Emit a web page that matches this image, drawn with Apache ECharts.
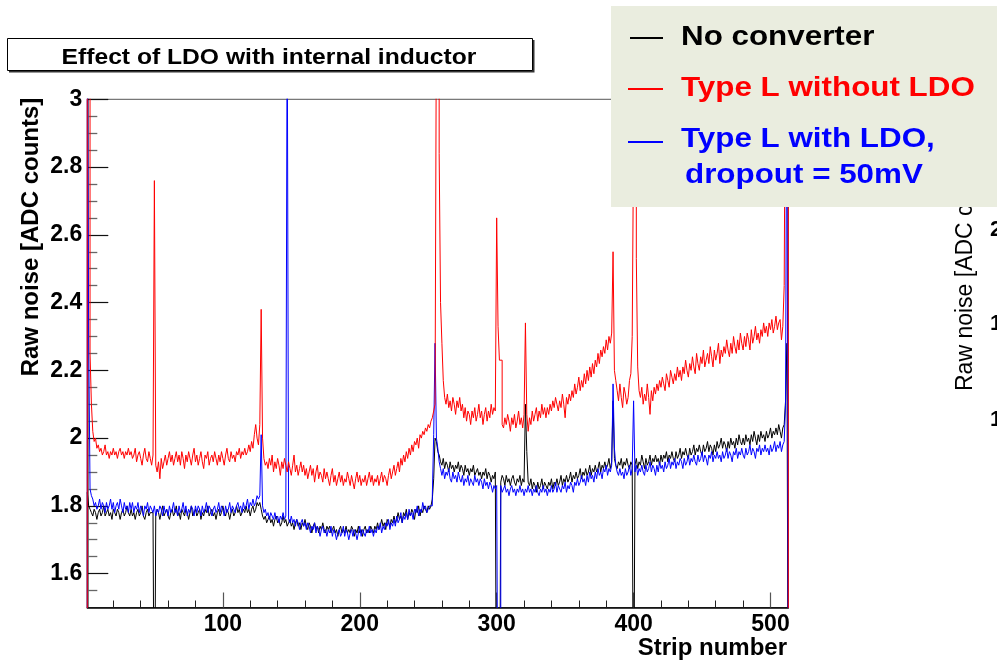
<!DOCTYPE html>
<html><head><meta charset="utf-8">
<script src="https://cdn.jsdelivr.net/npm/echarts@6/dist/echarts.min.js"></script>
<style>html,body{margin:0;padding:0;background:#fff}#c{width:997px;height:661px}</style>
</head><body><div id="c"></div>
<script>
// ---- data (strip 1..512), raw noise in ADC counts ----
const firstStrip = 1;
const noConverter = [
1.84,1.80,1.79,1.78,1.77,1.79,1.78,1.76,1.78,1.79,1.77,1.78,1.80,1.77,1.78,1.79,
1.77,1.78,1.76,1.79,1.78,1.77,1.79,1.78,1.76,1.78,1.79,1.77,1.78,1.80,1.78,1.77,
1.79,1.77,1.78,1.76,1.78,1.79,1.77,1.78,1.80,1.77,1.76,1.78,1.79,1.77,1.78,1.78,
1.77,1.00,1.77,1.79,1.78,1.76,1.78,1.80,1.77,1.78,1.79,1.77,1.76,1.78,1.79,1.77,
1.78,1.80,1.77,1.78,1.76,1.79,1.78,1.77,1.79,1.78,1.76,1.78,1.80,1.77,1.78,1.79,
1.77,1.78,1.79,1.76,1.78,1.77,1.79,1.78,1.80,1.77,1.78,1.79,1.77,1.78,1.76,1.78,
1.79,1.77,1.78,1.80,1.78,1.77,1.79,1.78,1.76,1.78,1.79,1.77,1.78,1.80,1.78,1.79,
1.77,1.78,1.79,1.78,1.80,1.78,1.79,1.77,1.79,1.80,1.78,1.79,1.81,1.80,1.81,1.79,
1.77,1.76,1.77,1.75,1.76,1.77,1.75,1.76,1.74,1.76,1.77,1.75,1.76,1.74,1.75,1.77,
1.75,1.76,1.74,1.75,1.76,1.74,1.75,1.73,1.75,1.76,1.74,1.75,1.73,1.75,1.74,1.76,
1.74,1.73,1.75,1.74,1.72,1.74,1.75,1.73,1.74,1.72,1.74,1.73,1.75,1.73,1.72,1.74,
1.73,1.74,1.72,1.73,1.74,1.72,1.73,1.71,1.73,1.74,1.72,1.73,1.72,1.74,1.72,1.73,
1.72,1.74,1.73,1.71,1.73,1.72,1.74,1.72,1.73,1.71,1.73,1.74,1.72,1.73,1.72,1.74,
1.73,1.72,1.74,1.73,1.75,1.73,1.74,1.76,1.74,1.75,1.73,1.76,1.75,1.74,1.76,1.75,
1.77,1.75,1.76,1.78,1.76,1.77,1.75,1.78,1.77,1.79,1.76,1.78,1.77,1.79,1.78,1.76,
1.79,1.78,1.80,1.77,1.79,1.78,1.80,1.79,1.78,1.80,1.79,1.80,1.82,1.88,2.00,1.99,
1.96,1.95,1.93,1.92,1.94,1.91,1.93,1.92,1.90,1.93,1.91,1.92,1.90,1.92,1.91,1.93,
1.90,1.92,1.91,1.89,1.92,1.90,1.91,1.89,1.91,1.90,1.92,1.89,1.90,1.91,1.89,1.90,
1.88,1.90,1.89,1.91,1.88,1.90,1.89,1.87,1.89,1.88,1.90,1.00,1.00,1.00,1.87,1.89,
1.88,1.86,1.89,1.87,1.88,1.86,1.88,1.89,1.87,1.86,1.88,1.87,1.89,1.86,1.88,1.87,
2.10,1.96,1.87,1.86,1.88,1.85,1.87,1.86,1.84,1.87,1.85,1.86,1.88,1.85,1.87,1.86,
1.85,1.87,1.86,1.88,1.85,1.87,1.86,1.88,1.86,1.87,1.89,1.86,1.88,1.87,1.89,1.87,
1.88,1.90,1.87,1.89,1.88,1.90,1.88,1.89,1.91,1.88,1.90,1.89,1.91,1.89,1.90,1.92,
1.89,1.91,1.90,1.92,1.90,1.91,1.93,1.90,1.92,1.91,1.93,1.91,1.92,1.94,1.91,1.93,
2.11,1.94,1.92,1.91,1.93,1.92,1.94,1.91,1.93,1.92,1.94,1.92,1.91,1.93,1.92,1.00,
1.92,1.94,1.91,1.93,1.92,1.95,1.93,1.91,1.94,1.92,1.93,1.95,1.92,1.94,1.93,1.95,
1.93,1.94,1.92,1.95,1.93,1.95,1.94,1.96,1.93,1.95,1.94,1.96,1.94,1.93,1.96,1.94,
1.95,1.97,1.94,1.96,1.95,1.97,1.95,1.94,1.97,1.95,1.96,1.98,1.95,1.97,1.96,1.98,
1.96,1.95,1.98,1.96,1.97,1.99,1.96,1.98,1.97,1.95,1.98,1.96,1.99,1.97,1.98,2.00,
1.97,1.99,1.98,1.96,1.99,1.97,2.00,1.98,1.99,1.97,2.00,1.98,2.01,1.99,1.98,2.00,
1.98,2.01,1.99,2.00,1.98,2.01,1.99,2.02,2.00,1.98,2.01,1.99,2.02,2.00,2.01,1.99,
2.02,2.00,2.01,2.03,2.00,2.02,2.01,2.03,2.01,2.04,2.02,2.00,2.03,2.04,2.11,2.28
];
const typeLWithoutLDO = [
3.30,3.30,2.25,2.10,2.02,1.99,2.00,1.97,1.98,1.96,1.97,1.95,1.96,1.98,1.95,1.96,
1.94,1.96,1.95,1.97,1.95,1.96,1.94,1.96,1.97,1.95,1.96,1.94,1.96,1.95,1.97,1.95,
1.96,1.94,1.95,1.97,1.93,1.95,1.96,1.94,1.92,1.95,1.97,1.94,1.93,1.96,1.94,1.92,
1.95,2.76,1.92,1.90,1.93,1.88,1.94,1.91,1.93,1.95,1.92,1.94,1.96,1.93,1.95,1.92,
1.94,1.96,1.93,1.95,1.92,1.96,1.94,1.91,1.95,1.93,1.96,1.94,1.92,1.95,1.97,1.93,
1.95,1.92,1.94,1.96,1.93,1.91,1.95,1.94,1.96,1.92,1.94,1.95,1.93,1.96,1.94,1.92,
1.95,1.93,1.96,1.94,1.92,1.95,1.97,1.94,1.93,1.96,1.94,1.95,1.93,1.96,1.95,1.97,
1.94,1.96,1.95,1.97,1.95,1.96,1.98,1.96,1.99,1.97,2.01,2.04,2.00,1.98,2.04,2.38,
2.00,1.94,1.92,1.93,1.91,1.94,1.92,1.95,1.90,1.93,1.91,1.94,1.92,1.89,1.93,1.91,
1.94,1.92,1.90,1.93,1.91,1.89,1.92,1.95,1.90,1.92,1.89,1.91,1.93,1.90,1.92,1.89,
1.91,1.88,1.90,1.92,1.89,1.91,1.87,1.90,1.92,1.88,1.90,1.89,1.87,1.91,1.88,1.90,
1.88,1.86,1.89,1.91,1.87,1.89,1.86,1.88,1.90,1.87,1.89,1.86,1.88,1.87,1.90,1.88,
1.86,1.89,1.87,1.85,1.88,1.90,1.87,1.89,1.86,1.88,1.87,1.89,1.86,1.88,1.90,1.87,
1.89,1.86,1.88,1.87,1.89,1.86,1.88,1.90,1.87,1.89,1.88,1.86,1.89,1.91,1.88,1.90,
1.92,1.89,1.91,1.93,1.90,1.94,1.92,1.95,1.93,1.96,1.94,1.97,1.95,1.98,1.96,1.99,
1.98,2.00,1.97,2.01,2.00,2.02,2.01,2.03,2.02,2.04,2.03,2.05,2.06,2.08,2.10,3.30,
3.30,2.84,2.40,2.28,2.17,2.12,2.10,2.13,2.09,2.11,2.08,2.12,2.10,2.07,2.11,2.09,
2.12,2.08,2.10,2.06,2.09,2.05,2.08,2.07,2.04,2.08,2.06,2.09,2.05,2.07,2.10,2.06,
2.08,2.04,2.07,2.09,2.05,2.08,2.06,2.10,2.07,2.09,2.08,2.65,2.33,2.23,2.23,2.04,
2.03,2.06,2.04,2.07,2.05,2.02,2.06,2.04,2.07,2.03,2.05,2.08,2.04,2.06,2.03,2.07,
2.34,2.07,2.02,2.06,2.04,2.08,2.05,2.07,2.09,2.05,2.08,2.06,2.10,2.07,2.09,2.06,
2.09,2.07,2.10,2.08,2.11,2.09,2.12,2.10,2.08,2.11,2.09,2.13,2.10,2.06,2.12,2.10,
2.13,2.11,2.14,2.12,2.16,2.13,2.15,2.18,2.14,2.17,2.15,2.19,2.16,2.20,2.17,2.21,
2.18,2.22,2.19,2.23,2.21,2.25,2.22,2.26,2.24,2.27,2.25,2.29,2.26,2.30,2.28,2.31,
2.55,2.20,2.17,2.14,2.11,2.16,2.12,2.09,2.15,2.13,2.10,2.12,2.17,2.19,2.30,2.90,
2.90,2.53,2.21,2.14,2.12,2.15,2.10,2.13,2.11,2.16,2.12,2.07,2.14,2.11,2.15,2.13,
2.16,2.14,2.17,2.15,2.18,2.16,2.14,2.19,2.17,2.15,2.20,2.18,2.16,2.19,2.17,2.21,
2.18,2.20,2.17,2.21,2.19,2.23,2.20,2.18,2.22,2.20,2.24,2.21,2.19,2.25,2.22,2.20,
2.24,2.22,2.26,2.21,2.23,2.25,2.22,2.27,2.24,2.21,2.26,2.23,2.25,2.28,2.22,2.26,
2.24,2.27,2.25,2.29,2.26,2.24,2.28,2.25,2.30,2.27,2.25,2.29,2.26,2.31,2.28,2.26,
2.30,2.27,2.31,2.29,2.26,2.32,2.28,2.30,2.33,2.29,2.31,2.28,2.32,2.30,2.34,2.31,
2.33,2.30,2.34,2.32,2.35,2.31,2.33,2.36,2.32,2.34,2.35,2.29,2.33,2.45,3.30,3.30
];
const typeLWithLDO = [
3.30,2.30,1.85,1.83,1.82,1.80,1.81,1.79,1.80,1.82,1.79,1.81,1.80,1.78,1.81,1.79,
1.80,1.82,1.79,1.81,1.78,1.80,1.81,1.79,1.82,1.80,1.78,1.81,1.79,1.80,1.78,1.81,
1.79,1.81,1.78,1.80,1.79,1.81,1.78,1.80,1.79,1.77,1.80,1.79,1.81,1.78,1.80,1.79,
1.78,1.80,1.77,1.79,1.78,1.80,1.79,1.77,1.80,1.78,1.79,1.77,1.80,1.78,1.79,1.81,
1.78,1.79,1.77,1.80,1.78,1.79,1.81,1.78,1.80,1.77,1.79,1.78,1.80,1.79,1.77,1.80,
1.78,1.80,1.79,1.77,1.80,1.78,1.79,1.81,1.78,1.80,1.79,1.77,1.79,1.80,1.78,1.79,
1.81,1.78,1.80,1.79,1.77,1.80,1.78,1.79,1.81,1.78,1.80,1.79,1.78,1.80,1.81,1.79,
1.80,1.78,1.81,1.79,1.80,1.82,1.79,1.81,1.80,1.82,1.80,1.81,1.83,1.82,1.83,2.01,
1.80,1.78,1.79,1.77,1.78,1.76,1.78,1.77,1.76,1.78,1.76,1.77,1.75,1.77,1.76,1.78,
1.76,1.77,3.30,1.76,1.75,1.77,1.75,1.76,1.74,1.76,1.75,1.73,1.75,1.76,1.74,1.75,
1.73,1.75,1.74,1.72,1.74,1.73,1.75,1.72,1.74,1.73,1.71,1.73,1.74,1.72,1.73,1.71,
1.73,1.72,1.74,1.71,1.73,1.72,1.70,1.72,1.73,1.71,1.72,1.74,1.71,1.73,1.72,1.70,
1.72,1.73,1.71,1.73,1.72,1.70,1.72,1.74,1.71,1.73,1.72,1.71,1.73,1.72,1.74,1.72,
1.73,1.71,1.73,1.72,1.74,1.73,1.75,1.72,1.74,1.73,1.75,1.74,1.76,1.73,1.75,1.74,
1.76,1.74,1.77,1.75,1.76,1.78,1.75,1.77,1.76,1.78,1.76,1.79,1.77,1.78,1.76,1.79,
1.78,1.80,1.77,1.79,1.78,1.81,1.79,1.80,1.78,1.79,1.80,1.80,1.83,2.01,2.28,2.00,
1.97,1.93,1.91,1.89,1.91,1.88,1.90,1.89,1.91,1.88,1.87,1.90,1.88,1.89,1.87,1.90,
1.88,1.87,1.89,1.86,1.88,1.87,1.89,1.86,1.88,1.87,1.86,1.89,1.87,1.88,1.86,1.88,
1.87,1.85,1.88,1.86,1.87,1.85,1.87,1.86,1.84,1.86,1.85,1.86,1.00,1.00,1.86,1.84,
1.85,1.86,1.84,1.85,1.83,1.85,1.86,1.84,1.85,1.83,1.85,1.84,1.86,1.84,1.85,1.83,
1.85,1.84,1.86,1.84,1.85,1.83,1.85,1.84,1.86,1.84,1.83,1.85,1.84,1.86,1.84,1.85,
1.83,1.85,1.84,1.86,1.84,1.85,1.87,1.84,1.86,1.85,1.84,1.86,1.85,1.87,1.84,1.86,
1.85,1.87,1.86,1.84,1.87,1.86,1.88,1.86,1.87,1.89,1.87,1.88,1.86,1.89,1.87,1.90,
1.88,1.89,1.87,1.90,1.88,1.91,1.89,1.90,1.88,1.91,1.90,1.92,1.89,1.91,1.90,1.92,
2.16,1.97,1.92,1.90,1.89,1.91,1.89,1.90,1.88,1.91,1.89,1.90,1.92,1.89,1.91,2.11,
1.90,1.92,1.89,1.91,1.90,1.92,1.90,1.89,1.92,1.90,1.91,1.93,1.90,1.92,1.91,1.89,
1.92,1.90,1.93,1.91,1.92,1.90,1.93,1.91,1.92,1.94,1.91,1.93,1.92,1.94,1.91,1.93,
1.92,1.94,1.93,1.91,1.94,1.92,1.93,1.95,1.92,1.94,1.93,1.95,1.93,1.92,1.95,1.93,
1.94,1.96,1.93,1.95,1.94,1.92,1.95,1.94,1.96,1.93,1.95,1.94,1.96,1.94,1.95,1.93,
1.96,1.94,1.95,1.97,1.94,1.96,1.95,1.93,1.96,1.95,1.97,1.94,1.96,1.95,1.97,1.95,
1.94,1.97,1.95,1.96,1.98,1.95,1.97,1.96,1.94,1.97,1.96,1.98,1.95,1.97,1.96,1.98,
1.96,1.97,1.95,1.98,1.96,1.97,1.99,1.96,1.98,1.97,1.99,1.96,1.98,1.99,2.10,3.30
];
const xMajorTicks = [100, 200, 300, 400, 500];
const xMinorTicks = [20,40,60,80,120,140,160,180,220,240,260,280,320,340,360,380,420,440,460,480];
const yMajorTicks = [1.6, 1.8, 2.0, 2.2, 2.4, 2.6, 2.8, 3.0];
const yMinorTicks = [1.55,1.65,1.7,1.75,1.85,1.9,1.95,2.05,2.1,2.15,2.25,2.3,2.35,2.45,2.5,2.55,2.65,2.7,2.75,2.85,2.9,2.95];
const legendNames = ['No converter', 'Type L without LDO', 'Type L with LDO,', 'dropout = 50mV'];

// ---- build step (histogram) outlines from the arrays ----
const BASE = 1.0; // below the visible range, like ROOT's contour from the baseline
function histo(vals) {
  const d = [[firstStrip, BASE]];
  vals.forEach((v, i) => d.push([firstStrip + i, v]));
  const last = firstStrip + vals.length;
  d.push([last, vals[vals.length - 1]]);
  d.push([last, BASE]);
  return d;
}

const chart = echarts.init(document.getElementById('c'), null, {renderer: 'canvas'});
const F = 'Liberation Sans, Arial, Helvetica, sans-serif';
const common = {type: 'line', step: 'end', symbol: 'none', showSymbol: false, clip: true,
  animation: false, silent: true, xAxisIndex: 0, yAxisIndex: 0};

chart.setOption({
  animation: false,
  grid: {left: 87.3, top: 99.3, width: 701, height: 508.2, show: true,
         borderColor: '#555', borderWidth: 1, backgroundColor: 'transparent'},
  xAxis: [{
    type: 'value', min: 1, max: 513, position: 'bottom',
    axisLine: {show: true, onZero: false, lineStyle: {color: '#000', width: 1.5}},
    axisTick: {show: true, inside: true, length: 15, customValues: xMajorTicks, lineStyle: {color: '#555', width: 1.2}},
    axisLabel: {show: true, customValues: xMajorTicks, margin: 6, color: '#000',
                fontFamily: F, fontWeight: 'bold', fontSize: 23},
    splitLine: {show: false}
  }, {
    type: 'value', min: 1, max: 513, position: 'bottom', gridIndex: 0,
    axisLine: {show: false},
    axisTick: {show: true, inside: true, length: 7, customValues: xMinorTicks, lineStyle: {color: '#222', width: 1}},
    axisLabel: {show: false}, splitLine: {show: false}
  }],
  yAxis: [{
    type: 'value', min: 1.5, max: 3, position: 'left',
    axisLine: {show: true, onZero: false, lineStyle: {color: '#555', width: 1.5}},
    axisTick: {show: true, inside: true, length: 21, customValues: yMajorTicks, lineStyle: {color: '#111', width: 1.2}},
    axisLabel: {show: true, customValues: yMajorTicks, margin: 5, color: '#000',
                fontFamily: F, fontWeight: 'bold', fontSize: 23,
                formatter: v => String(Math.round(v * 10) / 10)},
    splitLine: {show: false}
  }, {
    type: 'value', min: 1.5, max: 3, position: 'left', gridIndex: 0, offset: 0,
    axisLine: {show: false},
    axisTick: {show: true, inside: true, length: 10, customValues: yMinorTicks, lineStyle: {color: '#666', width: 1.3}},
    axisLabel: {show: false}, splitLine: {show: false}
  }],
  series: [
    Object.assign({name: legendNames[0], data: histo(noConverter), lineStyle: {color: '#000', width: 1}, z: 2}, common),
    Object.assign({name: legendNames[2], data: histo(typeLWithLDO), lineStyle: {color: '#0000ff', width: 1}, z: 3}, common),
    Object.assign({name: legendNames[1], data: histo(typeLWithoutLDO), lineStyle: {color: '#ff0000', width: 1}, z: 4}, common)
  ],
  graphic: [
    // clipped neighbouring panel's axis title and tick labels
    {type: 'text', x: 966, y: 391, rotation: Math.PI / 2, z: 5,
     style: {text: 'Raw noise [ADC counts]', fill: '#000', font: 'normal 23px ' + F, textAlign: 'left', textVerticalAlign: 'middle'}},
    {type: 'text', x: 990, y: 230, z: 5, style: {text: '2', fill: '#000', font: 'bold 22px ' + F, textAlign: 'left', textVerticalAlign: 'middle'}},
    {type: 'text', x: 990, y: 324, z: 5, style: {text: '1', fill: '#000', font: 'bold 22px ' + F, textAlign: 'left', textVerticalAlign: 'middle'}},
    {type: 'text', x: 990, y: 420, z: 5, style: {text: '1', fill: '#000', font: 'bold 22px ' + F, textAlign: 'left', textVerticalAlign: 'middle'}},
    // title box
    {type: 'polyline', z: 10, shape: {points: [[533.5, 40], [533.5, 71.5], [9, 71.5]]}, style: {stroke: '#333', lineWidth: 2, fill: null}},
    {type: 'rect', z: 11, shape: {x: 7.5, y: 38.5, width: 525, height: 32}, style: {fill: '#fff', stroke: '#000', lineWidth: 1}},
    {type: 'text', x: 269, y: 57.5, z: 12, scaleX: 1.12,
     style: {text: 'Effect of LDO with internal inductor', fill: '#000', font: 'bold 22px ' + F, textAlign: 'center', textVerticalAlign: 'middle'}},
    // axis titles
    {type: 'text', x: 31, y: 237, rotation: Math.PI / 2, z: 10,
     style: {text: 'Raw noise [ADC counts]', fill: '#000', font: 'bold 24px ' + F, textAlign: 'center', textVerticalAlign: 'middle'}},
    {type: 'text', x: 787, y: 648, z: 10,
     style: {text: 'Strip number', fill: '#000', font: 'bold 24px ' + F, textAlign: 'right', textVerticalAlign: 'middle'}},
    // legend box
    {type: 'rect', z: 20, shape: {x: 611, y: 6, width: 400, height: 201}, style: {fill: '#eaeddf', stroke: null}},
    {type: 'line', z: 21, shape: {x1: 630, y1: 38, x2: 663, y2: 38}, style: {stroke: '#000', lineWidth: 2.2}},
    {type: 'line', z: 21, shape: {x1: 628, y1: 89, x2: 663, y2: 89}, style: {stroke: '#ff0000', lineWidth: 2.2}},
    {type: 'line', z: 21, shape: {x1: 628, y1: 142, x2: 663, y2: 142}, style: {stroke: '#0000ff', lineWidth: 2.2}},
    {type: 'text', x: 681, y: 37, z: 21, scaleX: 1.12,
     style: {text: legendNames[0], fill: '#000', font: 'bold 28px ' + F, textAlign: 'left', textVerticalAlign: 'middle'}},
    {type: 'text', x: 681, y: 88, z: 21, scaleX: 1.12,
     style: {text: legendNames[1], fill: '#ff0000', font: 'bold 28px ' + F, textAlign: 'left', textVerticalAlign: 'middle'}},
    {type: 'text', x: 681, y: 139, z: 21, scaleX: 1.12,
     style: {text: legendNames[2], fill: '#0000ff', font: 'bold 28px ' + F, textAlign: 'left', textVerticalAlign: 'middle'}},
    {type: 'text', x: 685, y: 175, z: 21, scaleX: 1.12,
     style: {text: legendNames[3], fill: '#0000ff', font: 'bold 28px ' + F, textAlign: 'left', textVerticalAlign: 'middle'}}
  ]
});
</script>
</body></html>
